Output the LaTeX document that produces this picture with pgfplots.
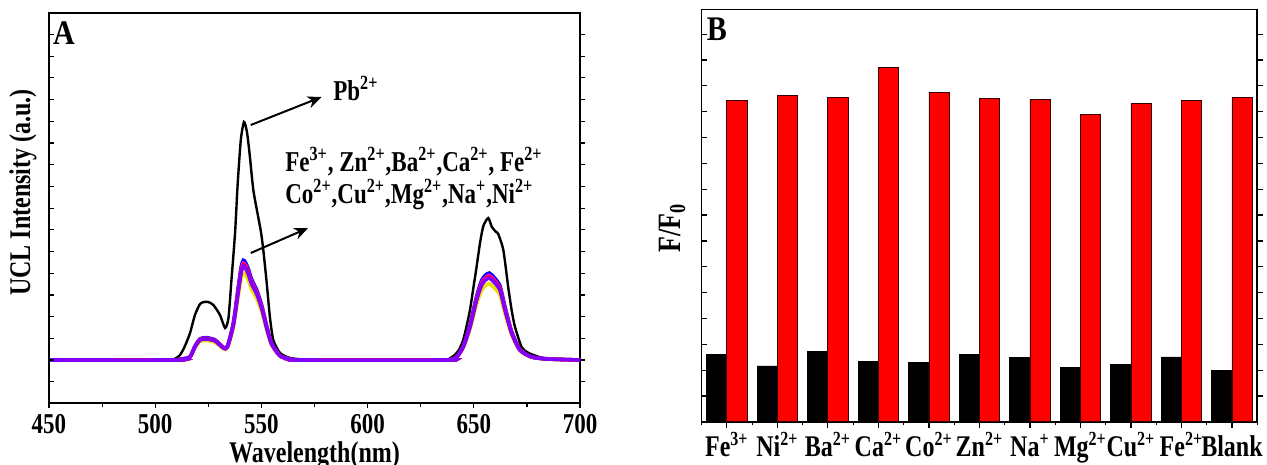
\documentclass[border=0pt]{standalone}
\usepackage{fontspec}
\setmainfont{Liberation Serif}
\usepackage{graphicx}
\usepackage{pgfplots}
\pgfplotsset{compat=1.18}
\usepackage{pgfplotstable}
\usetikzlibrary{arrows.meta}

\newcommand{\st}[1]{\scalebox{1}[1.25]{#1}}

\definecolor{cviolet}{RGB}{130,0,255}
\definecolor{cyellow}{RGB}{235,225,0}
\definecolor{cmag}{RGB}{255,0,255}

\pgfplotstableread{
x      v     b     m     r     y
450    0     0     0     0     0
510    0     0     0     0     0
513    1     1.1   1     1     0.9
516.4  3     3.2   3.1   3     2.8
518.7  13    13.8  13.4  13.2  12.1
521.1  20    21.2  20.6  20.3  18.6
524.2  21    22.3  21.6  21.3  19.5
528.2  19    20.1  19.6  19.3  17.7
532.1  12    12.7  12.4  12.2  11.2
534    13    13.8  13.4  13.2  12.1
536.8  35    37.1  36.1  35.5  32.6
539.2  70    74.2  72.1  71.1  65.1
540.5  88    93.3  90.6  89.3  81.8
541.5  94    99.6  96.8  95.4  87.4
542.5  92    97.5  94.8  93.4  85.6
543.8  86    91.2  88.6  87.3  80
545.4  76    80.6  78.3  77.1  70.7
547.8  66    70    68    67    61.4
550.1  52    55.1  53.6  52.8  48.4
552.5  32    33.9  33    32.5  29.8
554.8  16    17    16.5  16.2  14.9
558.8  4     4.2   4.1   4.1   3.7
563.5  1     1.1   1     1     0.9
568    0     0     0     0     0
638    0     0     0     0     0
640    1     1.1   1     1     0.9
642    3     3.2   3.1   3     2.8
645    13    13.8  13.4  13.2  12.1
648.2  33    35    34    33.5  30.7
651.3  60    63.6  61.8  60.9  55.8
653.7  75    79.5  77.3  76.1  69.8
655.5  80    84.8  82.4  81.2  74.4
657.3  82    86.9  84.5  83.2  76.3
659.5  78    82.7  80.3  79.2  72.5
662.3  70    74.2  72.1  71.1  65.1
664.7  50    53    51.5  50.8  46.5
667.8  27    28.6  27.8  27.4  25.1
671.7  10    10.6  10.3  10.2  9.3
677.2  3     3.2   3.1   3     2.8
685    1     1.1   1     1     0.9
700    0     0     0     0     0
}\ions

\pgfplotstableread{
x      k
450    0
505    0
509    1
511.7  5
514    14
516.4  27
518.7  45
521.1  56
523    58
525    58
527.4  55
530.5  45
532.9  32
534.5  42
535.9  80
537.6  127
538.8  175
540.3  220
541.8  238
543.2  228
544.5  205
546.2  170
548.5  143
549.8  128
550.9  110
552.5  77
554    43
555.6  20
558.8  7
563.5  2
570    0.5
575    0
636    0
639    2
641    5
643    10
645    20
646.5  33
648.2  50
650    75
651.3  93
653    118
654.5  134
656.8  142
658.5  133
660.5  128
661.5  126
663.9  110
666.2  73
667.8  50
669.4  33
672.5  13
675    8
678    5
685    1
700    0
}\pb

\pgfplotsset{
  common/.style={
    scale only axis,
    axis line style={line width=0.8pt},
    every tick/.style={black, line width=0.6pt},
    major tick length=2.5pt,
    minor tick length=2pt,
    tick label style={font=\fontsize{11.5}{11.5}\selectfont\bfseries},
    label style={font=\fontsize{12}{12}\selectfont\bfseries},
    clip=true,
  },
}

\begin{document}
\begin{tikzpicture}
% ---------------- Panel A ----------------
\begin{axis}[common,
  at={(24.5pt,-6.5pt)}, anchor=north west,
  width=265.5pt, height=195pt,
  xmin=450, xmax=700, ymin=-43, ymax=347,
  xtick={450,500,...,700},
  xticklabels={\st{450},\st{500},\st{550},\st{600},\st{650},\st{700}},
  minor x tick num=1,
  ytick={-21.7,0,...,340}, yticklabels={},
  tick align=outside, xtick pos=bottom, ytick pos=right,
  xticklabel style={anchor=base, yshift=-12.5pt},
  xlabel={\st{Wavelength(nm)}},
  xlabel style={at={(axis description cs:0.5,-0.152)}, anchor=base},
  ylabel={\st{UCL Intensity (a.u.)}},
  ylabel style={at={(axis description cs:-0.049,0.54)}, anchor=center},
]
\addplot[black, line width=1.2pt, smooth, tension=0.4] table[x=x,y=k]{\pb};
\addplot[cyellow, line width=1.8pt, smooth, tension=0.4] table[x=x,y=y]{\ions};
\addplot[blue, line width=1.8pt, smooth, tension=0.4] table[x=x,y=b]{\ions};
\addplot[cmag, line width=1.8pt, smooth, tension=0.4] table[x=x,y=m]{\ions};
\addplot[red, line width=1.8pt, smooth, tension=0.4] table[x=x,y=r]{\ions};
\addplot[cviolet, line width=1.8pt, smooth, tension=0.4] table[x=x,y=v]{\ions};

\draw[-{Stealth[length=7pt,width=6pt]}, line width=1pt] (axis cs:545,235) -- (axis cs:578.3,263);
\draw[-{Stealth[length=7pt,width=6pt]}, line width=1pt] (axis cs:545,107) -- (axis cs:572,132);
\node[anchor=base west, inner sep=0pt, font=\fontsize{11.5}{11.5}\selectfont\bfseries] at (axis cs:583.7,260) {\st{Pb\textsuperscript{2+}}};
\node[anchor=base west, inner sep=0pt, font=\fontsize{11.5}{11.5}\selectfont\bfseries] at (axis cs:561.1,189) {\st{Fe\textsuperscript{3+}, Zn\textsuperscript{2+},Ba\textsuperscript{2+},Ca\textsuperscript{2+}, Fe\textsuperscript{2+}}};
\node[anchor=base west, inner sep=0pt, font=\fontsize{11.5}{11.5}\selectfont\bfseries] at (axis cs:561.1,157) {\st{Co\textsuperscript{2+},Cu\textsuperscript{2+},Mg\textsuperscript{2+},Na\textsuperscript{+},Ni\textsuperscript{2+}}};
\node[anchor=center, inner sep=0pt, font=\fontsize{15}{15}\selectfont\bfseries] at (rel axis cs:0.028,0.949) {\scalebox{1}[1.15]{A}};
\end{axis}
\begin{axis}[common,
  at={(24.5pt,-6.5pt)}, anchor=north west,
  width=265.5pt, height=195pt,
  xmin=450, xmax=700, ymin=-43, ymax=347,
  hide x axis, axis y line*=left,
  ytick={-21.7,0,...,340}, yticklabels={},
  tick align=inside,
]
\end{axis}

% ---------------- Panel B ----------------
\begin{axis}[common,
  at={(350.8pt,-4.7pt)}, anchor=north west,
  width=277.8pt, height=206.2pt,
  xmin=-0.5, xmax=10.5, ymin=0, ymax=15.96,
  ybar, bar width=0.4,
  xtick={0,...,10},
  xticklabels={\st{Fe\textsuperscript{3+}},\st{Ni\textsuperscript{2+}},\st{Ba\textsuperscript{2+}},\st{Ca\textsuperscript{2+}},\st{Co\textsuperscript{2+}},\st{Zn\textsuperscript{2+}},\st{Na\textsuperscript{+}},\st{Mg\textsuperscript{2+}},\st{Cu\textsuperscript{2+}},\st{Fe\textsuperscript{2+}},\st{Blank}},
  minor xtick={-0.5,0.5,...,10.5},
  ytick={1,...,15}, yticklabels={},
  tick align=outside, xtick pos=bottom, ytick pos=right,
  major tick length=3pt, minor tick length=1.8pt,
  xticklabel style={anchor=base, yshift=-14.5pt, font=\fontsize{12}{12}\selectfont\bfseries},
  ylabel={\st{F/F\textsubscript{0}}},
  ylabel style={at={(axis description cs:-0.053,0.47)}, anchor=center, font=\fontsize{13}{13}\selectfont\bfseries},
]
\addplot[fill=black, draw=black, line width=0.4pt, bar shift=-0.2] coordinates {
(0,2.62) (1,2.16) (2,2.73) (3,2.32) (4,2.29) (5,2.62) (6,2.50) (7,2.09) (8,2.22) (9,2.51) (10,2.00)};
\addplot[fill=red, draw=black!80!red, line width=0.4pt, bar shift=0.2] coordinates {
(0,12.44) (1,12.63) (2,12.55) (3,13.71) (4,12.76) (5,12.51) (6,12.46) (7,11.91) (8,12.32) (9,12.42) (10,12.56)};
\node[anchor=center, inner sep=0pt, font=\fontsize{15}{15}\selectfont\bfseries] at (rel axis cs:0.0275,0.952) {\scalebox{1}[1.15]{B}};
\end{axis}
\begin{axis}[common,
  at={(350.8pt,-4.7pt)}, anchor=north west,
  width=277.8pt, height=206.2pt,
  xmin=-0.5, xmax=10.5, ymin=0, ymax=15.96,
  hide x axis, axis y line*=left,
  ytick={1,...,15}, yticklabels={},
  tick align=inside,
]
\end{axis}

\pgfresetboundingbox
\path[use as bounding box] (0pt,0pt) rectangle (633.5pt,-232.5pt);
\end{tikzpicture}
\end{document}
